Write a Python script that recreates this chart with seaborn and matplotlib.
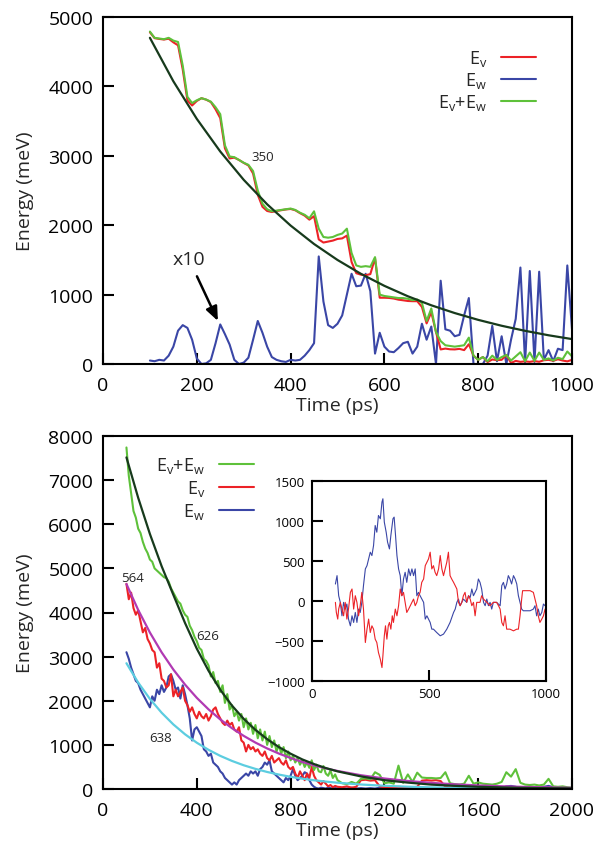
import numpy as np
import matplotlib
matplotlib.use("Agg")
import matplotlib.pyplot as plt
import seaborn as sns

# ---------------- top panel: relaxation, fit 350 ----------------
t_top = list(range(100, 1001, 10))
top_sum = [4790, 4700, 4690, 4680, 4700, 4660, 4640, 4300, 3850, 3760,
           3800, 3830, 3810, 3780, 3700, 3600, 3150, 2990, 2980, 2940,
           2900, 2870, 2780, 2500, 2310, 2230, 2200, 2210, 2220, 2230,
           2240, 2220, 2180, 2150, 2100, 2200, 1950, 1830, 1820, 1830,
           1860, 1880, 1950, 1600, 1420, 1400, 1410, 1400, 1540, 1000,
           980, 970, 960, 950, 950, 940, 920, 930, 880, 620,
           800, 460, 330, 270, 260, 250, 260, 270, 380, 120,
           60, 100, 40, 120, 60, 100, 130, 50, 110, 170,
           40, 165, 45, 165, 60, 80, 50, 90, 70, 180, 110]
top_ev = [4780, 4695, 4684, 4675, 4688, 4635, 4592, 4244, 3798, 3725,
          3790, 3830, 3809, 3774, 3670, 3543, 3107, 2962, 2974, 2940,
          2898, 2861, 2745, 2438, 2265, 2205, 2190, 2204, 2216, 2227,
          2234, 2215, 2174, 2138, 2080, 2130, 1795, 1750, 1764, 1778,
          1802, 1810, 1850, 1470, 1308, 1287, 1280, 1295, 1525, 955,
          955, 952, 943, 927, 918, 908, 905, 905, 822, 585,
          746, 460, 210, 222, 212, 210, 218, 200, 285, 120,
          60, 100, 28, 65, 56, 60, 130, 15, 45, 31,
          38, 31, 42, 32, 54, 60, 46, 68, 50, 38, 60]
top_ew10 = [50, 40, 60, 50, 120, 250, 480, 560, 520, 350,
            80, 0, 10, 60, 300, 570, 430, 280, 60, 0,
            20, 90, 350, 620, 450, 250, 100, 60, 40, 30,
            60, 50, 60, 120, 200, 300, 1550, 900, 560, 520,
            580, 700, 1000, 1300, 1120, 1130, 1300, 1050, 150, 450,
            250, 180, 170, 230, 300, 320, 150, 250, 580, 350,
            540, 0, 1200, 500, 480, 400, 420, 700, 950, 0,
            0, 0, 120, 550, 40, 400, 0, 350, 650, 1390,
            20, 1340, 30, 1330, 60, 200, 40, 220, 200, 1420, 500]
t_top_fit = list(range(100, 1001, 50))
top_fit = [4700, 4074, 3532, 3062, 2654, 2301, 1995, 1729, 1499, 1299,
           1126, 976, 846, 734, 636, 551, 478, 414, 359]

# ---------------- bottom panel ----------------
t_bot = list(range(100, 1001, 10)) + list(range(1020, 2001, 20))
bot_sum = [7740, 7100, 6700, 6300, 6150, 5900, 5800, 5600, 5450, 5350,
           5200, 5150, 5000, 4950, 4900, 4850, 4800, 4780, 4700, 4550,
           4450, 4350, 4250, 4200, 4050, 3950, 3900, 3700, 3600, 3450,
           3350, 3200, 3150, 2950, 2900, 2800, 2550, 2650, 2400, 2450,
           2200, 2350, 1950, 2150, 1800, 1900, 1650, 1750, 1550, 1700,
           1400, 1600, 1350, 1500, 1250, 1450, 1150, 1350, 1100, 1300,
           1000, 1200, 950, 1100, 850, 1000, 800, 950, 700, 850,
           650, 750, 600, 700, 550, 650, 500, 600, 480, 650,
           430, 550, 400, 380, 520, 350, 300, 420, 250, 330, 200,
           130, 110, 160, 120, 230, 240, 220, 380, 320, 130,
           150, 120, 530, 140, 330, 160, 370, 260, 250, 250,
           240, 250, 380, 130, 110, 100, 120, 300, 120, 150,
           120, 110, 100, 120, 160, 380, 280, 450, 140, 100,
           90, 100, 80, 100, 230, 60, 50, 60, 40, 30]
bot_ev = [4650, 4300, 4450, 4100, 3950, 4050, 3800, 3550, 3650, 3400,
          3300, 3150, 3100, 2750, 2850, 2500, 2450, 2300, 2350, 2600,
          2100, 2250, 2100, 2200, 2300, 2000, 1900, 1750, 1850, 1700,
          1600, 1750, 1650, 1600, 1700, 1550, 1650, 1800, 1850, 1700,
          1600, 1500, 1450, 1550, 1450, 1500, 1350, 1300, 1400, 1100,
          1050, 850, 1000, 900, 950, 850, 900, 800, 750, 850,
          700, 650, 750, 600, 650, 700, 600, 550, 650, 500,
          450, 500, 350, 250, 400, 300, 200, 350, 250, 500,
          300, 200, 150, 100, 180, 120, 60, 90, 40, 70, 50,
          40, 60, 30, 50, 200, 210, 190, 200, 60, 40,
          30, 40, 50, 40, 30, 40, 50, 190, 200, 190,
          200, 180, 50, 30, 40, 30, 40, 50, 40, 30,
          20, 30, 40, 30, 40, 50, 30, 40, 30, 20,
          30, 20, 30, 20, 30, 20, 20, 10, 10, 10]
bot_ew = [3100, 2950, 2750, 2600, 2450, 2400, 2250, 2150, 2050, 1950,
          1850, 2100, 2000, 2250, 2150, 2350, 2200, 2300, 2550, 2600,
          2450, 2250, 2300, 2050, 2350, 2150, 1900, 1600, 1100, 1350,
          1400, 1300, 1200, 900, 850, 750, 800, 600, 550, 500,
          400, 350, 250, 200, 150, 100, 150, 100, 200, 250,
          300, 350, 300, 400, 350, 400, 300, 450, 500, 600,
          550, 650, 400, 350, 300, 250, 200, 150, 250, 200,
          300, 450, 300, 200, 250, 300, 380, 350, 200, 100,
          50, 20, 10, 30, 20, 10, 30, 20, 10, 20, 10,
          20, 10, 30, 10, 20, 10, 20, 10, 30, 20,
          10, 20, 10, 20, 30, 10, 20, 10, 20, 10,
          20, 10, 20, 10, 20, 10, 20, 10, 20, 10,
          20, 30, 40, 30, 20, 60, 70, 50, 20, 10,
          20, 10, 20, 50, 70, 40, 20, 10, 10, 10]
t_bot_fit = list(range(100, 1001, 50)) + list(range(1100, 2001, 100))
fit_sum = [7515, 6600, 5780, 5050, 4400, 3760, 3180, 2680, 2250, 1890,
           1590, 1340, 1130, 950, 800, 670, 565, 475, 400,
           285, 200, 145, 100, 72, 50, 36, 25, 18, 13]
fit_ev = [4645, 4058, 3546, 3098, 2707, 2365, 2066, 1805, 1577, 1378,
          1204, 1052, 919, 803, 702, 613, 536, 468, 409,
          312, 238, 182, 139, 106, 81, 62, 47, 36, 27]
fit_ew = [2850, 2412, 2042, 1729, 1463, 1239, 1049, 888, 751, 636,
          538, 456, 386, 327, 276, 234, 198, 168, 142,
          102, 73, 52, 37, 27, 19, 14, 10, 7, 5]

# ---------------- inset: deviations ----------------
ins_t_ew = [100, 107, 114, 121, 128, 135, 142, 149, 156, 164, 171, 178, 185, 192, 199,
            206, 213, 220, 228, 235, 242, 249, 256, 263, 270, 277, 284, 292, 299, 303,
            309, 317, 323, 331, 337, 346, 351, 357, 363, 370, 377, 384, 391, 398, 405,
            413, 420, 427, 434, 441, 448, 455, 462, 477, 484, 491, 505, 512, 519, 533,
            548, 562, 576, 590, 605, 612, 619, 626, 633, 647, 661, 669, 676, 683, 690,
            704, 711, 718, 725, 733, 740, 747, 754, 761, 768, 775, 789, 804, 811, 818,
            825, 832, 839, 846, 853, 861, 868, 875, 882, 889, 896, 903, 917, 932, 946,
            953, 960, 967, 974, 982, 989, 996]
ins_ew = [212, 317, 66, -17, -185, -17, -101, -38, -226, -310, -185, -268, -143, -268, -101,
          -143, -17, 192, 401, 442, 526, 610, 568, 693, 944, 860, 1069, 1028, 1237, 1278,
          986, 860, 735, 651, 819, 1028, 1049, 819, 568, 401, 317, 66, 275, 359, 233,
          401, 317, 401, 317, 401, 66, 108, 66, -17, -226, -185, -268, -352, -352, -394,
          -435, -414, -352, -268, -143, -101, -17, 24, -59, 24, -17, 66, 45, 150, 66,
          150, 275, 233, 150, -17, -59, 24, -59, -17, -101, -17, -17, -59, 192, 233,
          150, 213, 317, 275, 213, 317, 275, 213, 66, -17, -101, -122, -122, -122, -101,
          -59, -185, -101, -185, -143, -38, -59]
ins_t_ev = [100, 104, 110, 114, 121, 128, 135, 142, 149, 156, 164, 171, 178, 185, 192,
            199, 206, 213, 220, 228, 235, 242, 249, 256, 263, 270, 277, 284, 292, 299,
            303, 309, 314, 320, 326, 331, 337, 343, 348, 356, 363, 370, 377, 384, 391,
            398, 405, 413, 420, 427, 434, 441, 448, 455, 462, 469, 477, 484, 491, 498,
            505, 512, 519, 526, 533, 541, 548, 555, 562, 569, 576, 583, 590, 597, 605,
            612, 619, 626, 633, 640, 647, 654, 661, 669, 676, 683, 690, 697, 704, 718,
            725, 733, 747, 761, 775, 789, 797, 804, 811, 818, 825, 832, 846, 861, 875,
            882, 889, 896, 900, 917, 932, 946, 953, 960, 967, 974, 982, 989, 996]
ins_ev = [-17, -143, -226, -101, -17, -101, -185, -17, -226, -101, 108, 150, -101, 66, -17,
          -185, -59, 108, -101, -519, -352, -226, -394, -310, -352, -477, -519, -644, -728, -832,
          -686, -435, -310, -477, -310, -268, -352, -185, -268, -101, -185, -59, 150, 66, 108,
          -17, -143, -101, -59, -17, 24, -59, -17, 66, 108, 233, 275, 442, 484, 526,
          610, 401, 442, 359, 317, 401, 568, 401, 317, 401, 484, 610, 317, 275, 233,
          192, 150, -17, -59, -17, 66, 108, -17, 66, 24, -59, -17, -185, -17, -17,
          66, 24, -17, -59, -17, -17, -59, -101, -268, -310, -185, -352, -352, -373, -352,
          -352, -185, 24, 129, 129, 129, 108, 24, -59, -185, -268, -226, -185, -101]

RED = "#ec2227"
BLUE = "#3a46a6"
GREEN = "#5ec13a"
DARK = "#173a1c"
MAG = "#b13ab3"
CYAN = "#5ccde0"

sns.set_style("ticks")
plt.rcParams["font.family"] = ["Open Sans", "DejaVu Sans"]
plt.rcParams["mathtext.fontset"] = "custom"
plt.rcParams["mathtext.rm"] = "Open Sans"
plt.rcParams["mathtext.it"] = "Open Sans"

LAB_EV = r"$\mathregular{E_v}$"
LAB_EW = r"$\mathregular{E_w}$"
LAB_SUM = r"$\mathregular{E_v{+}E_w}$"


def style(ax, size=14, length=8, xpad=9, ypad=7):
    for s in ax.spines.values():
        s.set_visible(True)
        s.set_linewidth(1.5)
        s.set_color("black")
    ax.tick_params(direction="in", length=length, width=1.5, labelsize=size,
                   top=False, right=False, colors="black")
    ax.tick_params(axis="x", pad=xpad)
    ax.tick_params(axis="y", pad=ypad)


def line(ax, x, y, color, lw, label=None):
    sns.lineplot(x=x, y=y, ax=ax, color=color, linewidth=lw, label=label,
                 legend=False, errorbar=None, sort=False)
    return ax.lines[-1]


fig = plt.figure(figsize=(5.97, 8.54), dpi=100)

# top
ax1 = fig.add_axes([103 / 597, 1 - 365 / 854, 469 / 597, 347 / 854])
h_ew = line(ax1, t_top, top_ew10, BLUE, 1.5, LAB_EW)
h_ev = line(ax1, t_top, top_ev, RED, 1.5, LAB_EV)
h_sum = line(ax1, t_top, top_sum, GREEN, 1.5, LAB_SUM)
line(ax1, t_top_fit, top_fit, DARK, 1.6)
ax1.set_xlim(0, 1000)
ax1.set_ylim(0, 5000)
ax1.set_xticks([0, 200, 400, 600, 800, 1000])
ax1.set_yticks([0, 1000, 2000, 3000, 4000, 5000])
style(ax1)
ax1.set_xlabel("Time (ps)", fontsize=14, labelpad=1)
ax1.set_ylabel("Energy (meV)", fontsize=14, labelpad=10)
ax1.legend([h_ev, h_ew, h_sum], [LAB_EV, LAB_EW, LAB_SUM], loc="upper right",
           bbox_to_anchor=(0.923, 0.91), frameon=False, markerfirst=False,
           fontsize=13, handlelength=1.95, handletextpad=0.75, labelspacing=0.1,
           borderpad=0, borderaxespad=0)
ax1.text(341, 2983, "350", fontsize=9.5, ha="center", va="center")
ax1.annotate("x10", xy=(245, 620), xytext=(183, 1513), fontsize=14,
             ha="center", va="center",
             arrowprops=dict(arrowstyle="-|>,head_length=0.6,head_width=0.25",
                             color="black", lw=1.8, shrinkA=4, shrinkB=0))

# bottom
ax2 = fig.add_axes([103 / 597, 1 - 790 / 854, 469 / 597, 353 / 854])
b_ew = line(ax2, t_bot, bot_ew, BLUE, 1.5, LAB_EW)
b_ev = line(ax2, t_bot, bot_ev, RED, 1.5, LAB_EV)
b_sum = line(ax2, t_bot, bot_sum, GREEN, 1.5, LAB_SUM)
line(ax2, t_bot_fit, fit_ew, CYAN, 1.6)
line(ax2, t_bot_fit, fit_ev, MAG, 1.6)
line(ax2, t_bot_fit, fit_sum, DARK, 1.6)
ax2.set_xlim(0, 2000)
ax2.set_ylim(0, 8000)
ax2.set_xticks([0, 400, 800, 1200, 1600, 2000])
ax2.set_yticks(list(range(0, 8001, 1000)))
style(ax2)
ax2.set_xlabel("Time (ps)", fontsize=14, labelpad=1)
ax2.set_ylabel("Energy (meV)", fontsize=14, labelpad=10)
ax2.legend([b_sum, b_ev, b_ew], [LAB_SUM, LAB_EV, LAB_EW], loc="upper right",
           bbox_to_anchor=(0.322, 0.945), frameon=False, markerfirst=False,
           fontsize=13, handlelength=1.95, handletextpad=0.75, labelspacing=0.15,
           borderpad=0, borderaxespad=0)
ax2.text(124, 4804, "564", fontsize=9.5, ha="center", va="center")
ax2.text(448, 3470, "626", fontsize=9.5, ha="center", va="center")
ax2.text(247, 1178, "638", fontsize=9.5, ha="center", va="center")

# inset
ax3 = fig.add_axes([312 / 597, 1 - 682 / 854, 234 / 597, 200 / 854])
line(ax3, ins_t_ew, ins_ew, BLUE, 0.8)
line(ax3, ins_t_ev, ins_ev, RED, 0.8)
ax3.set_xlim(0, 1000)
ax3.set_ylim(-1000, 1500)
ax3.set_xticks([0, 500, 1000])
ax3.set_yticks([-1000, -500, 0, 500, 1000, 1500])
style(ax3, size=9.5, length=8, xpad=4, ypad=5)
ax3.set_xlabel("")
ax3.set_ylabel("")

fig.savefig("out.png", dpi=100)
